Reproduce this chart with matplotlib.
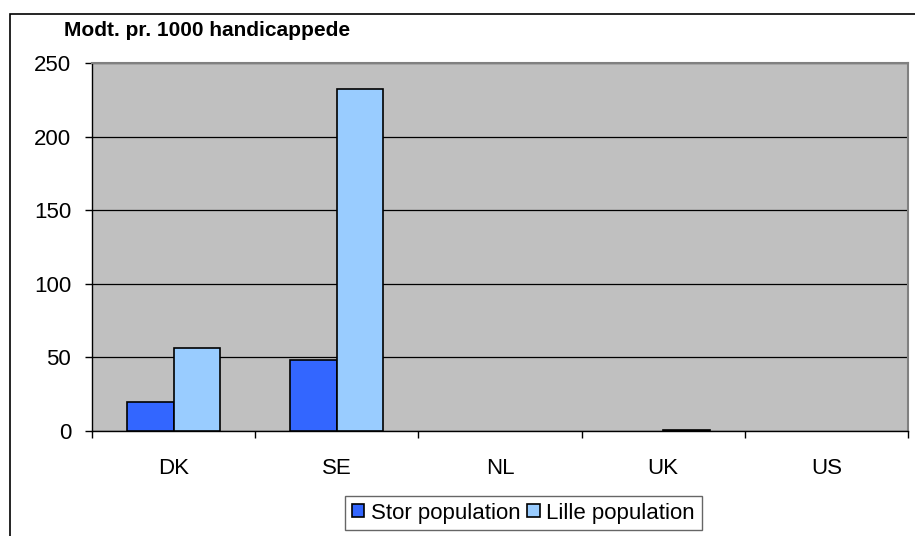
import matplotlib
matplotlib.use("Agg")
import matplotlib.pyplot as plt
import numpy as np
from matplotlib.patches import Rectangle

categories = ["DK", "SE", "NL", "UK", "US"]
stor = [20, 48.5, 0, 0, 0]
lille = [56.5, 232, 0, 1, 0]
series_names = ["Stor population", "Lille population"]
yticks = [0, 50, 100, 150, 200, 250]
title = "Modt. pr. 1000 handicappede"

plt.rcParams['font.family'] = ['Liberation Sans', 'DejaVu Sans']

W, H = 915, 536
fig = plt.figure(figsize=(W / 100, H / 100), dpi=100)
fig.patch.set_facecolor("white")

# outer chart border (top and left visible)
fig.add_artist(Rectangle((10 / W, -0.05), 1.0, 1 - 14 / H + 0.05, transform=fig.transFigure,
                         fill=False, edgecolor="black", linewidth=1.2))

ax = fig.add_axes([92 / W, 1 - 431 / H, (908 - 92) / W, (431 - 63) / H])
ax.set_facecolor("#C0C0C0")

x = np.arange(len(categories))
bw = 0.286
b1 = ax.bar(x - bw / 2, stor, bw, color="#3366FF", edgecolor="black", linewidth=1.2,
            label=series_names[0], zorder=3)
b2 = ax.bar(x + bw / 2, lille, bw, color="#99CCFF", edgecolor="black", linewidth=1.2,
            label=series_names[1], zorder=3)
for p in list(b1) + list(b2):
    if p.get_height() == 0:
        p.set_visible(False)

ax.set_xlim(-0.5, len(categories) - 0.5)
ax.set_ylim(0, 250)
ax.set_yticks(yticks)
ax.set_yticklabels([str(v) for v in yticks], fontsize=16)
ax.yaxis.grid(True, color="black", linewidth=0.9, zorder=1)
ax.set_axisbelow(True)

# category labels at centers, ticks at boundaries
ax.set_xticks(np.arange(-0.5, len(categories), 1.0))
ax.set_xticklabels([])
ax.tick_params(axis="x", length=5, width=1, color="black")
ax.tick_params(axis="y", length=5, width=1, color="black", pad=10)
for xi, c in zip(x, categories):
    ax.text(xi, -(468 - 431) / (431 - 63), c, transform=ax.get_xaxis_transform(),
            ha="center", va="center", fontsize=16)

for s in ["top", "right"]:
    ax.spines[s].set_color("#808080")
    ax.spines[s].set_linewidth(1.5)
ax.spines["left"].set_color("black")
ax.spines["bottom"].set_color("black")
ax.spines["left"].set_linewidth(1)
ax.spines["bottom"].set_linewidth(1)

fig.text(64 / W, 1 - 31 / H, title, fontsize=15, fontweight="bold", ha="left", va="center")

leg = fig.legend(loc="center", bbox_to_anchor=((349 + 698) / 2 / W, 1 - 513 / H),
                 ncol=2, fontsize=16, frameon=True, fancybox=False, edgecolor="#404040",
                 handlelength=0.55, handleheight=0.55, handletextpad=0.3, columnspacing=0.3,
                 borderpad=0.3, borderaxespad=0)
leg.get_frame().set_linewidth(1)

fig.savefig("out.png", dpi=100)
